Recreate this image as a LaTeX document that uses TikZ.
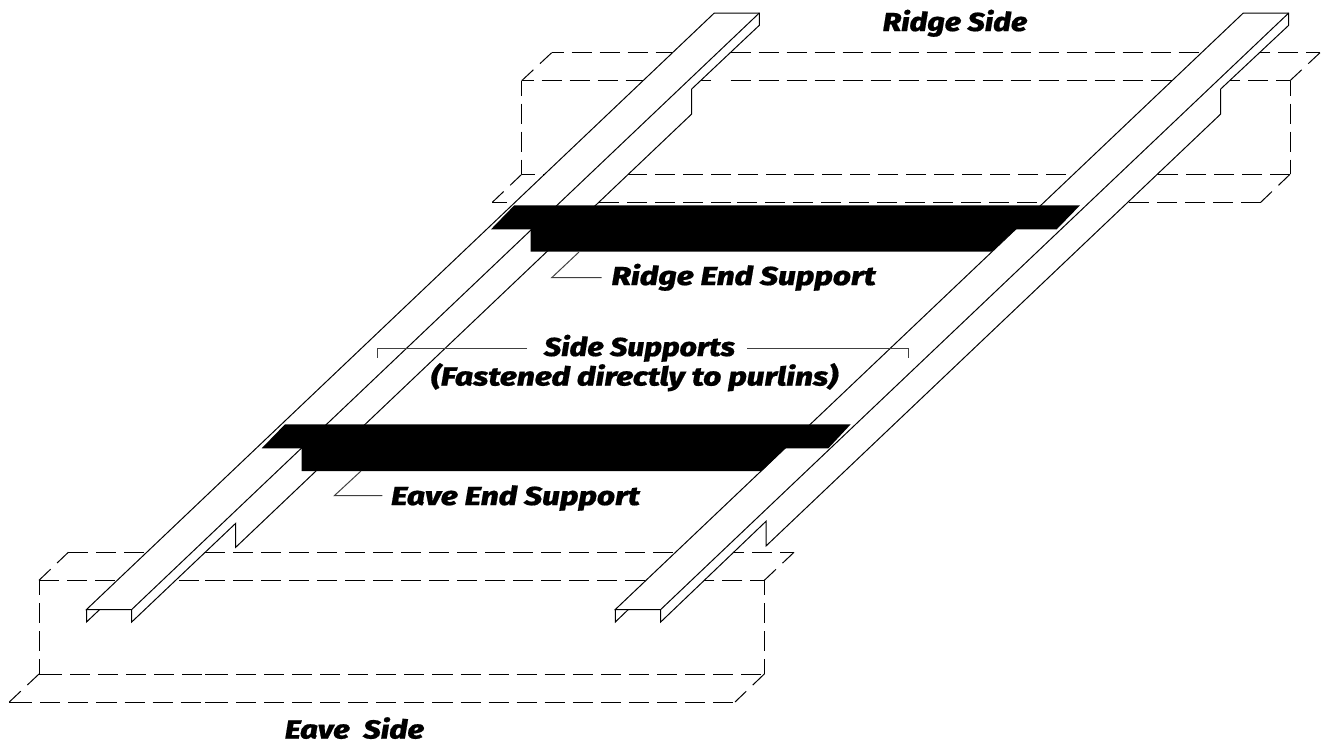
\documentclass[tikz,border=0pt]{standalone}
\usepackage{fontspec}
\newfontfamily\lblfont[FakeStretch=1.19,FakeBold=0.6]{Fira Sans ExtraBold Italic}
\newfontfamily\lblwide[FakeStretch=1.222,FakeBold=0.6]{Fira Sans ExtraBold Italic}
\newfontfamily\lblnarrow[FakeStretch=1.165,FakeBold=0.6]{Fira Sans ExtraBold Italic}
\tikzset{
  px/.style={x=0.75pt,y=-0.75pt},
  dashH/.style={line width=0.75pt,dash pattern=on 15pt off 6pt},
  dashL/.style={line width=0.75pt,dash pattern=on 17.25pt off 6pt on 15.05pt off 6pt on 15.05pt off 6pt on 15.05pt off 6pt on 15.05pt off 6pt on 15.05pt off 6pt on 15.05pt off 6pt on 15.05pt off 6pt on 15.05pt off 6pt on 15.05pt off 6pt on 15.05pt off 6pt on 15.05pt off 6pt on 15.05pt off 6pt on 15.05pt off 6pt on 15.05pt off 6pt on 15.05pt off 6pt on 15.05pt off 6pt on 15.05pt off 6pt on 15.05pt off 6pt on 15.05pt off 6pt on 15.05pt off 6pt},
  dashE/.style={line width=0.75pt,dash pattern=on 15pt off 6pt,dash phase=6pt},
  dashF/.style={line width=0.75pt,dash pattern=on 15pt off 6pt,dash phase=4.5pt},
  dashV/.style={line width=0.75pt,dash pattern=on 15pt off 6pt,dash phase=3.75pt},
  dashD/.style={line width=0.75pt,dash pattern=on 12pt off 6.75pt},
  purlin/.style={fill=white,draw=black,line width=0.75pt,line join=miter},
  edge/.style={line width=0.75pt},
  leader/.style={line width=0.75pt,draw=black!75},
  solidblack/.style={fill=black,draw=none},
  lbl/.style={font=\lblfont\fontsize{19.5pt}{23pt}\selectfont,anchor=base,inner sep=0pt,outer sep=0pt},
  lblW/.style={font=\lblwide\fontsize{19.5pt}{23pt}\selectfont,anchor=base,inner sep=0pt,outer sep=0pt},
  lblN/.style={font=\lblnarrow\fontsize{19.5pt}{23pt}\selectfont,anchor=base,inner sep=0pt,outer sep=0pt},
}
\begin{document}
\begin{tikzpicture}[px]
\useasboundingbox (0,0) rectangle (1323,743);
% --- eave purlin (dashed)
\coordinate (ea) at (68.3,552.3); \coordinate (eb) at (794,552.3);
\coordinate (ec) at (39,580.3);   \coordinate (ed) at (764.3,580.3);
\coordinate (ee) at (39,674);     \coordinate (ef) at (764.3,674);
\coordinate (eg) at (9.3,702);    \coordinate (eh) at (735,702);
\coordinate (em1) at (205,552.3); \coordinate (em2) at (205,580.3);
\coordinate (em3) at (205,674);   \coordinate (em4) at (205,702);
\coordinate (ex1) at (700,552.3); \coordinate (ex2) at (670,580.3);
\draw[dashH] (ea) -- (em1); \draw[dashH] (em1) -- (ex1); \draw[dashF] (eb) -- (ex1);
\draw[dashH] (ec) -- (em2); \draw[dashH] (em2) -- (ex2); \draw[dashF] (ed) -- (ex2);
\draw[dashL] (ee) -- (em3); \draw[dashL] (em3) -- (ef);
\draw[dashL] (eg) -- (em4); \draw[dashL] (em4) -- (eh);
\draw[dashV] (ec) -- (ee); \draw[dashV] (ed) -- (ef);
\draw[dashD] (ec) -- (ea); \draw[dashD] (ed) -- (eb);
\draw[dashD] (ee) -- (eg); \draw[dashD] (ef) -- (eh);
% --- ridge purlin (dashed)
\coordinate (ra) at (551.7,52.7); \coordinate (rb) at (1320,52.7);
\coordinate (rc) at (521.7,80.7); \coordinate (rd) at (1290,80.7);
\coordinate (re) at (521.7,174.3);\coordinate (rf) at (1290,174.3);
\coordinate (rg) at (492.3,202.3);\coordinate (rh) at (1260.7,202.3);
\coordinate (rm1) at (730.7,52.7); \coordinate (rm2) at (730.7,80.7);
\coordinate (rm3) at (730.7,174.3);\coordinate (rm4) at (730.7,202.3);
\coordinate (rx1) at (1230,52.7);  \coordinate (rx2) at (1170,80.7);
\coordinate (ry1) at (711,80.7);   \coordinate (ry2) at (698,80.7);
\draw[dashE] (ra) -- (rm1); \draw[dashH] (rm1) -- (rx1); \draw[dashF] (rb) -- (rx1);
\draw[dashE] (rc) -- (ry2); \draw[edge] (ry1) -- (ry2); \draw[dashH] (rm2) -- (rx2); \draw[dashF] (rd) -- (rx2);
\draw[dashH] (rm3) -- (re); \draw[dashH] (rf) -- (rm3);
\draw[dashH] (rm4) -- (rg); \draw[dashH] (rh) -- (rm4);
\draw[dashV] (rc) -- (re); \draw[dashV] (rd) -- (rf);
\draw[dashD] (rc) -- (ra); \draw[dashD] (rd) -- (rb);
\draw[dashD] (re) -- (rg); \draw[dashD] (rf) -- (rh);
% --- left rail
\coordinate (la) at (86.5,609.5);  \coordinate (lb) at (714.3,13);
\coordinate (lc) at (759.3,13);    \coordinate (ld) at (759.3,25.3);
\coordinate (le) at (691.7,89);    \coordinate (lf) at (691.7,114);
\coordinate (lg) at (235.7,547.3); \coordinate (lh) at (235.7,523.3);
\coordinate (li) at (131.7,622);   \coordinate (lj) at (131.7,609.5);
\coordinate (lk) at (86.5,622);    \coordinate (ll) at (99.7,609.5);
\draw[purlin] (la) -- (lb) -- (lc) -- (ld) -- (le) -- (lf) -- (lg) -- (lh) -- (li) -- (lj) -- cycle;
\draw[edge] (lj) -- (lc);
\draw[edge] (la) -- (lk) -- (ll);
% --- right rail
\coordinate (ma) at (615.3,609.5);  \coordinate (mb) at (1243.3,13);
\coordinate (mc) at (1288.7,13);    \coordinate (md) at (1288.7,25.3);
\coordinate (me) at (1220.7,89);    \coordinate (mf) at (1220.7,114);
\coordinate (mg) at (766,546);      \coordinate (mh) at (766,521.3);
\coordinate (mi) at (660.7,622);    \coordinate (mj) at (660.7,609.5);
\coordinate (mk) at (615.3,622);    \coordinate (ml) at (628.3,609.5);
\draw[purlin] (ma) -- (mb) -- (mc) -- (md) -- (me) -- (mf) -- (mg) -- (mh) -- (mi) -- (mj) -- cycle;
\draw[edge] (mj) -- (mc);
\draw[edge] (ma) -- (mk) -- (ml);
% --- end supports
\fill[solidblack] (514.3,205.3) -- (491,229.3) -- (530.7,229.3) -- (530.7,251.7) -- (991.7,251.7) -- (1015.7,229.3) -- (1056.7,229.3) -- (1080,205.3) -- cycle;
\fill[solidblack] (285,424.3) -- (261.7,448.3) -- (301.7,448.3) -- (301.7,471) -- (761.7,471) -- (785,448.3) -- (828.3,448.3) -- (850.7,424.3) -- cycle;
% --- labels
\node[lblN] (ridgeside) at (955,31) {Ridge Side};
\node[lblW] (ridgeend) at (743.7,285) {Ridge End Support};
\node[lblN] (sidesup) at (639.5,356) {Side Supports};
\node[lblW] (fastened) at (634.5,385.5) {(Fastened directly to purlins)};
\node[lblW] (eaveend) at (515.5,505) {Eave End Support};
\node[lbl] (eaveside) at (354.5,738.5) {Eave\ \ Side};
% --- leaders
\coordinate (q0) at (601.7,277.7); \coordinate (q1) at (551.7,277.7); \coordinate (q1e) at (579,252);
\draw[leader] (q0) -- (q1) -- (q1e);
\coordinate (p0) at (382.3,495.7); \coordinate (q2) at (334.3,495.7); \coordinate (q2e) at (361,471);
\draw[leader] (p0) -- (q2) -- (q2e);
\coordinate (s0) at (527,348.7); \coordinate (s1) at (377,348.7); \coordinate (s1b) at (377,357.5);
\coordinate (t0) at (747,348.7); \coordinate (s2) at (908,348.7); \coordinate (s2b) at (908,357.5);
\draw[leader] (s0) -- (s1) -- (s1b);
\draw[leader] (t0) -- (s2) -- (s2b);
\end{tikzpicture}
\end{document}
